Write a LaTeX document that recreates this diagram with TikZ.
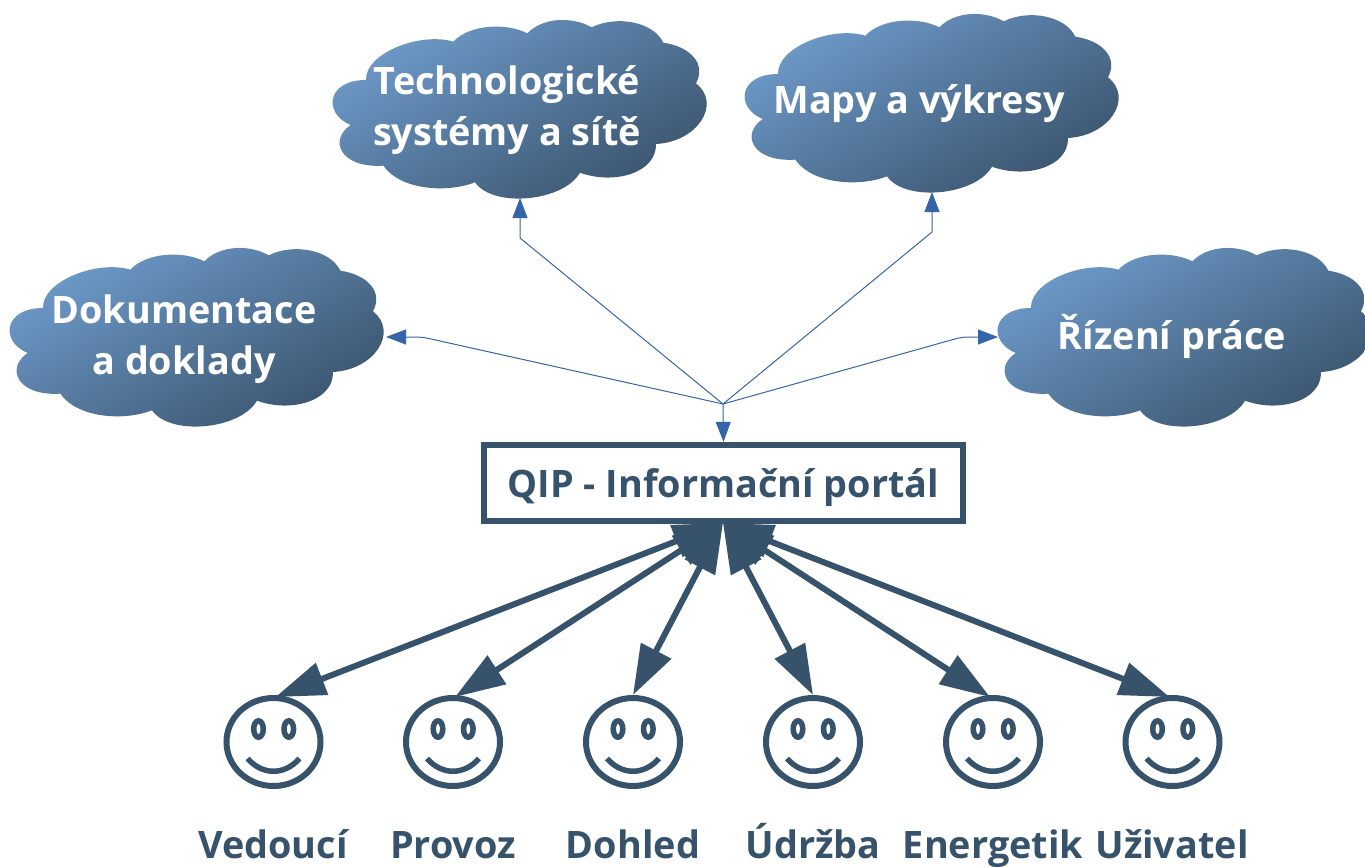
\documentclass[tikz,border=0pt]{standalone}
\usepackage{fontspec}
\setmainfont{Open Sans}
\usetikzlibrary{arrows.meta,shapes.geometric}
\definecolor{dk}{HTML}{36536B}
\definecolor{bl}{HTML}{3465A8}
\definecolor{cl}{HTML}{6E9BCB}
\definecolor{cd}{HTML}{385169}
\tikzset{
  x=1pt,y=-1pt,
  cloudtext/.style={text=white,font=\fontsize{37.8}{51}\selectfont\bfseries,align=center,inner sep=0pt},
  facenode/.style={draw=dk,line width=6pt,ellipse,minimum width=94pt,minimum height=88pt,inner sep=0pt,fill=white},
  eye/.style={draw=dk,line width=5.5pt},
  mouth/.style={draw=dk,line width=5.5pt},
  who/.style={text=dk,font=\fontsize{37.8}{40}\selectfont\bfseries,inner sep=0pt,anchor=base},
  qipbox/.style={draw=dk,fill=white,line width=6.3pt,minimum width=479pt,minimum height=76pt,text=dk,font=\fontsize{37.8}{40}\selectfont\bfseries,inner sep=0pt,text height=30pt,text depth=2pt},
  thin arrow/.style={draw=bl,line width=1pt,-{Triangle[length=20pt,width=15pt,color=bl]}},
  thick arrow/.style={draw=dk,line width=6pt,{Triangle[length=50pt,width=33pt,color=dk]}-{Triangle[length=50pt,width=33pt,color=dk]}},
}
\newcommand{\mycloud}[2]{%
  \begin{scope}[shift={(#1,#2)},x=0.33333pt,y=-0.33333pt]
    \shade[top color=cl,bottom color=cd,shading angle=30]
      (138,180) .. controls (135,100) and (300,35) .. (400,65)
      .. controls (450,12) and (560,8) .. (622,40)
      .. controls (670,-10) and (760,-10) .. (815,22)
      .. controls (890,-15) and (1000,5) .. (1030,68)
      .. controls (1110,80) and (1160,130) .. (1128,190)
      .. controls (1205,250) and (1135,365) .. (1008,372)
      .. controls (1010,460) and (880,495) .. (780,458)
      .. controls (730,545) and (520,565) .. (465,487)
      .. controls (380,520) and (240,510) .. (190,437)
      .. controls (60,445) and (25,360) .. (92,315)
      .. controls (8,280) and (20,180) .. (138,180) -- cycle;
  \end{scope}}
\newcommand{\myface}[2]{%
  \node[facenode] (#1) at (#2,742) {};
  \draw[eye] ([xshift=-15pt,yshift=13pt]#1.center) ellipse (4.8pt and 8.2pt);
  \draw[eye] ([xshift=15.3pt,yshift=13pt]#1.center) ellipse (4.8pt and 8.2pt);
  \draw[mouth] ([xshift=-26pt,yshift=-16.5pt]#1.center) .. controls +(15,17) and +(-15,17) .. ([xshift=26pt,yshift=-16.5pt]#1.center);
}
\begin{document}
\begin{tikzpicture}
\useasboundingbox (0,0) rectangle (1365,867);
% clouds
\mycloud{320}{20}
\mycloud{732}{14}
\mycloud{-3}{248}
\mycloud{985}{248}
\node[cloudtext] (tech) at (507,110) {Technologické\\systémy a sítě};
\node[cloudtext] (mapy) at (919,104) {Mapy a výkresy};
\node[cloudtext] (dok) at (184,339) {Dokumentace\\a doklady};
\node[cloudtext] (riz) at (1172,336.5) {Řízení práce};
% end points of the thin connectors
\coordinate (hub) at (723,404);
\coordinate (tTech) at (520,198);
\coordinate (bTech) at (520,238);
\coordinate (tMapy) at (932,192);
\coordinate (bMapy) at (932,232);
\coordinate (tDok) at (386,337);
\coordinate (bDok) at (422,337);
\coordinate (tRiz) at (998,337);
\coordinate (bRiz) at (962,337);
% faces
\myface{f1}{273.5}
\myface{f2}{453}
\myface{f3}{633}
\myface{f4}{813}
\myface{f5}{993}
\myface{f6}{1172.5}
% box
\coordinate (qs) at (723,523);
\draw[thick arrow] (qs) -- ([xshift=2pt,yshift=-2pt]f1.north);
\draw[thick arrow] (qs) -- ([xshift=2pt,yshift=-2pt]f2.north);
\draw[thick arrow] (qs) -- (f3.north);
\draw[thick arrow] (qs) -- (f4.north);
\draw[thick arrow] (qs) -- ([xshift=-3pt,yshift=-2pt]f5.north);
\draw[thick arrow] (qs) -- ([xshift=-3pt,yshift=-2pt]f6.north);
\node[qipbox] (qip) at (723.5,483) {QIP - Informační portál};
% thin
\draw[thin arrow] (hub) -- (qip.north);
\draw[thin arrow] (hub) -- (bTech) -- (tTech);
\draw[thin arrow] (hub) -- (bMapy) -- (tMapy);
\draw[thin arrow,rounded corners=6pt] (hub) -- (bDok) -- (tDok);
\draw[thin arrow,rounded corners=6pt] (hub) -- (bRiz) -- (tRiz);
% labels
\node[who] (l1) at (273,858) {Vedoucí};
\node[who] (l2) at (453,858) {Provoz};
\node[who] (l3) at (633,858) {Dohled};
\node[who] (l4) at (813,858) {Údržba};
\node[who] (l5) at (993,858) {Energetik};
\node[who] (l6) at (1172,858) {Uživatel};
\end{tikzpicture}
\end{document}
